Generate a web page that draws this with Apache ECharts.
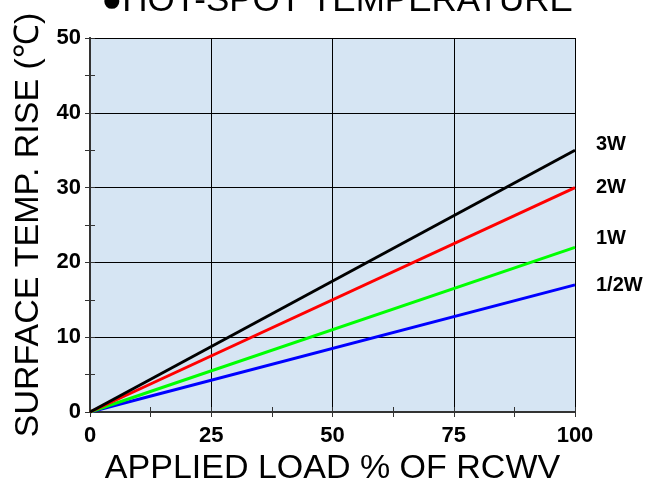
<!DOCTYPE html>
<html lang="en">
<head>
<meta charset="UTF-8">
<title>HOT-SPOT TEMPERATURE</title>
<script src="https://cdn.jsdelivr.net/npm/echarts@6/dist/echarts.min.js"></script>
<style>
  html, body { margin: 0; padding: 0; background: #fff; }
</style>
</head>
<body>
<div id="main" style="width: 669px;height:484px;"></div>
<script>
// load % of RCWV
var load = [0, 100];
// temperature rise for each wattage
var rise3W = [0, 35];
var rise2W = [0, 30];
var rise1W = [0, 22];
var riseHalfW = [0, 17];
var seriesNames = ['3W', '2W', '1W', '1/2W'];
var seriesColors = ['#000000', '#ff0000', '#00ff00', '#0000ff'];
var labelShift = [-6, 0, -9, 1];

var myChart = echarts.init(document.getElementById('main'));

function pts(ys) {
    return load.map(function (x, i) { return [x, ys[i]]; });
}

var allData = [rise3W, rise2W, rise1W, riseHalfW];
var font = 'Liberation Sans, Arial, sans-serif';

var series = allData.map(function (d, i) {
    return {
        name: seriesNames[i],
        type: 'line',
        data: pts(d),
        symbol: 'none',
        silent: true,
        lineStyle: { color: seriesColors[i], width: 3 },
        endLabel: {
            show: true,
            formatter: seriesNames[i],
            fontFamily: font,
            fontWeight: 'bold',
            fontSize: 20,
            color: '#000',
            distance: 21,
            offset: [0, labelShift[i]]
        },
        z: 5 - i
    };
});

var edge = { show: true, lineStyle: { color: '#333', width: 2 } };
var innerTick = { show: true, inside: true, length: 5, lineStyle: { color: '#333' } };
// negative length turns the minor ticks inward
var minor = { show: true, splitNumber: 2, length: -5, lineStyle: { color: '#333' } };

var option = {
    animation: false,
    title: {
        text: '●HOT-SPOT TEMPERATURE',
        left: 332,
        textAlign: 'center',
        top: -21,
        textStyle: { fontFamily: font, fontWeight: 'normal', fontSize: 35, color: '#000' }
    },
    grid: {
        left: 90, right: 94, top: 38, bottom: 72,
        containLabel: false, outerBoundsMode: 'none',
        show: true, backgroundColor: '#d6e5f3', borderWidth: 0
    },
    xAxis: [{
        type: 'value', min: 0, max: 100, interval: 25,
        name: 'APPLIED LOAD % OF RCWV',
        nameLocation: 'middle', nameGap: 39,
        nameTextStyle: { fontFamily: font, fontSize: 34, color: '#000' },
        axisLine: edge,
        axisTick: innerTick,
        minorTick: minor,
        axisLabel: { fontFamily: font, fontWeight: 'bold', fontSize: 22, color: '#000', margin: 13 },
        splitLine: { show: true, lineStyle: { color: '#000', width: 1 } }
    }, {
        type: 'value', min: 0, max: 100, interval: 25, position: 'top',
        axisLine: edge,
        axisTick: innerTick,
        minorTick: minor,
        axisLabel: { show: false },
        splitLine: { show: false }
    }],
    yAxis: [{
        type: 'value', min: 0, max: 50, interval: 10,
        name: 'SURFACE TEMP. RISE (℃)',
        nameLocation: 'middle', nameGap: 41,
        nameTextStyle: { fontFamily: font, fontSize: 34, color: '#000' },
        axisLine: edge,
        axisTick: innerTick,
        minorTick: minor,
        axisLabel: { fontFamily: font, fontWeight: 'bold', fontSize: 22, color: '#000', margin: 9 },
        splitLine: { show: true, lineStyle: { color: '#000', width: 1 } }
    }, {
        type: 'value', min: 0, max: 50, interval: 10, position: 'right',
        axisLine: edge,
        axisTick: innerTick,
        minorTick: minor,
        axisLabel: { show: false },
        splitLine: { show: false }
    }],
    series: series
};

myChart.setOption(option);
</script>
</body>
</html>
